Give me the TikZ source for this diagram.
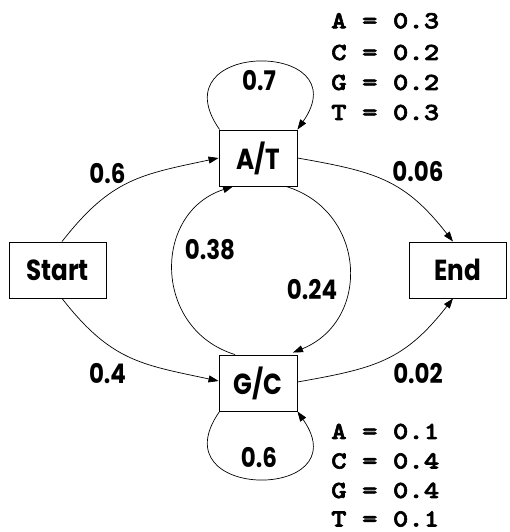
\documentclass[tikz,border=0pt]{standalone}
\usepackage{fontspec}
\usetikzlibrary{arrows.meta,calc}
\newfontfamily\labfont{Poppins}[FakeStretch=0.85]
\newfontfamily\monofont{lmmonolt10-bold.otf}[FakeStretch=1.2,FakeBold=2.5]
\begin{document}
\begin{tikzpicture}[x=1pt,y=1pt,
  state/.style={draw,line width=0.9pt,inner sep=0pt,minimum width=78pt,minimum height=56pt,
    font=\labfont\bfseries\fontsize{29}{34}\selectfont},
  trans/.style={-{Triangle[length=10pt,width=7pt]},line width=0.7pt},
  prob/.style={font=\labfont\bfseries\fontsize{27}{32}\selectfont,inner sep=0pt},
  emis/.style={font=\monofont\fontsize{24.5}{30}\selectfont,inner sep=0pt,anchor=base west}]
\useasboundingbox (0,0) rectangle (509,532);

% states
\node[state] (at) at (258,374) {A/T};
\node[state] (gc) at (258,149) {G/C};
\node[state,minimum width=97pt] (start) at (57.5,262) {Start};
\node[state,minimum width=97pt] (end) at (457.5,262) {End};

% transitions
\draw[trans] ([xshift=4.5pt]start.north) to[out=52,in=-168,looseness=1.15] (at.west);
\draw[trans] ([xshift=4.5pt]start.south) to[out=-52,in=168,looseness=1.15] ([yshift=2pt]gc.west);
\draw[trans] (at.east) to[out=-10,in=128,looseness=1.15] ([xshift=-4.5pt]end.north);
\draw[trans] ([yshift=1pt]gc.east) to[out=10,in=-128,looseness=1.15] ([xshift=-4.5pt]end.south);
\draw[trans] ([xshift=28pt]at.south) to[out=-17,in=22,looseness=1.3] ([xshift=35pt,yshift=2pt]gc.north);
\draw[trans] ([xshift=-23pt]gc.north) to[out=163,in=-162,looseness=1.3] ([xshift=-25pt]at.south);
\draw[trans] ([xshift=1pt]at.north west) .. controls +(125:110) and +(55:110) .. (at.north east);
\draw[trans] ([xshift=1pt]gc.south west) .. controls +(-125:110) and +(-55:110) .. (gc.south east);

% transition probabilities
\node[prob] (p1) at (107.5,358.5) {0.6};
\node[prob] (p2) at (418,360) {0.06};
\node[prob] (p3) at (210,282) {0.38};
\node[prob] (p4) at (312,242) {0.24};
\node[prob] (p5) at (107.5,158.5) {0.4};
\node[prob] (p6) at (418,158.5) {0.02};
\node[prob] (p7) at (259,451) {0.7};
\node[prob] (p8) at (259,74) {0.6};

% emission probabilities
\node[emis] (ea) at (331,503.7) {A = 0.3};
\node[emis] (ec) at (331,472) {C = 0.2};
\node[emis] (eg) at (331,442) {G = 0.2};
\node[emis] (et) at (331,412) {T = 0.3};
\node[emis] (fa) at (331,93) {A = 0.1};
\node[emis] (fc) at (331,63.5) {C = 0.4};
\node[emis] (fg) at (331,34) {G = 0.4};
\node[emis] (ft) at (331,5.5) {T = 0.1};
\end{tikzpicture}
\end{document}
